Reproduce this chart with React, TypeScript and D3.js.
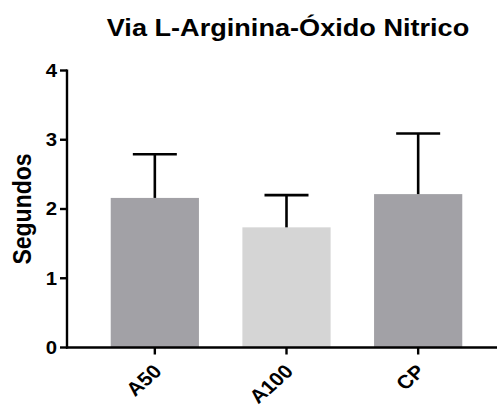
import React from "react";
import * as d3 from "d3";

const categories = ["A50", "A100", "CP"];
const means = [2.16, 1.735, 2.215];
const errTops = [2.79, 2.2, 3.09];
const barColors = ["#a2a1a6", "#d5d5d5", "#a2a1a6"];
const yTicks = [0, 1, 2, 3, 4];
const title = "Via L-Arginina-Óxido Nitrico";
const yLabel = "Segundos";

const W = 497;
const H = 405;
const SX = 1.13;

export default function App() {
  const y = d3.scaleLinear().domain([0, 4]).range([347.5, 70.5]);
  const x = d3.scaleBand<string>().domain(categories).range([89, 484]).paddingInner(0.33).paddingOuter(0.165);
  const axisX = 67;
  const font = "'Liberation Sans', Arial, sans-serif";
  return (
    <svg width={W} height={H} style={{ position: "absolute", left: 0, top: 0, background: "#fff" }} fontFamily={font}>
      <text transform={`translate(288,36) scale(${SX},1)`} textAnchor="middle" fontSize={24} fontWeight="bold">{title}</text>
      {categories.map((c, i) => {
        const bx = x(c)!;
        const bw = x.bandwidth();
        const cx = bx + bw / 2;
        return (
          <g key={c}>
            <rect x={bx} y={y(means[i])} width={bw} height={y(0) - y(means[i])} fill={barColors[i]} />
            <line x1={cx} x2={cx} y1={y(means[i])} y2={y(errTops[i])} stroke="#000" strokeWidth={2.6} />
            <line x1={cx - 22} x2={cx + 22} y1={y(errTops[i])} y2={y(errTops[i])} stroke="#000" strokeWidth={2.6} />
            <line x1={cx} x2={cx} y1={y(0)} y2={y(0) + 7} stroke="#000" strokeWidth={2.4} />
            <text
              transform={`translate(${cx + 8},${y(0) + 25}) scale(${SX},1) rotate(-45)`}
              textAnchor="end"
              fontSize={19}
              fontWeight="bold"
            >
              {c}
            </text>
          </g>
        );
      })}
      <line x1={axisX} x2={axisX} y1={y(4) - 1} y2={y(0) + 1} stroke="#000" strokeWidth={2.4} />
      <line x1={axisX - 1} x2={W} y1={y(0)} y2={y(0)} stroke="#000" strokeWidth={2.4} />
      {yTicks.map((t) => (
        <g key={t}>
          <line x1={axisX - 7} x2={axisX} y1={y(t)} y2={y(t)} stroke="#000" strokeWidth={2.4} />
          <text transform={`translate(${axisX - 10},${y(t)}) scale(${SX},1)`} dy="0.36em" textAnchor="end" fontSize={18} fontWeight="bold">{t}</text>
        </g>
      ))}
      <text transform={`translate(31,${(y(0) + y(4)) / 2}) scale(${SX},1) rotate(-90)`} textAnchor="middle" fontSize={23} fontWeight="bold">{yLabel}</text>
    </svg>
  );
}
